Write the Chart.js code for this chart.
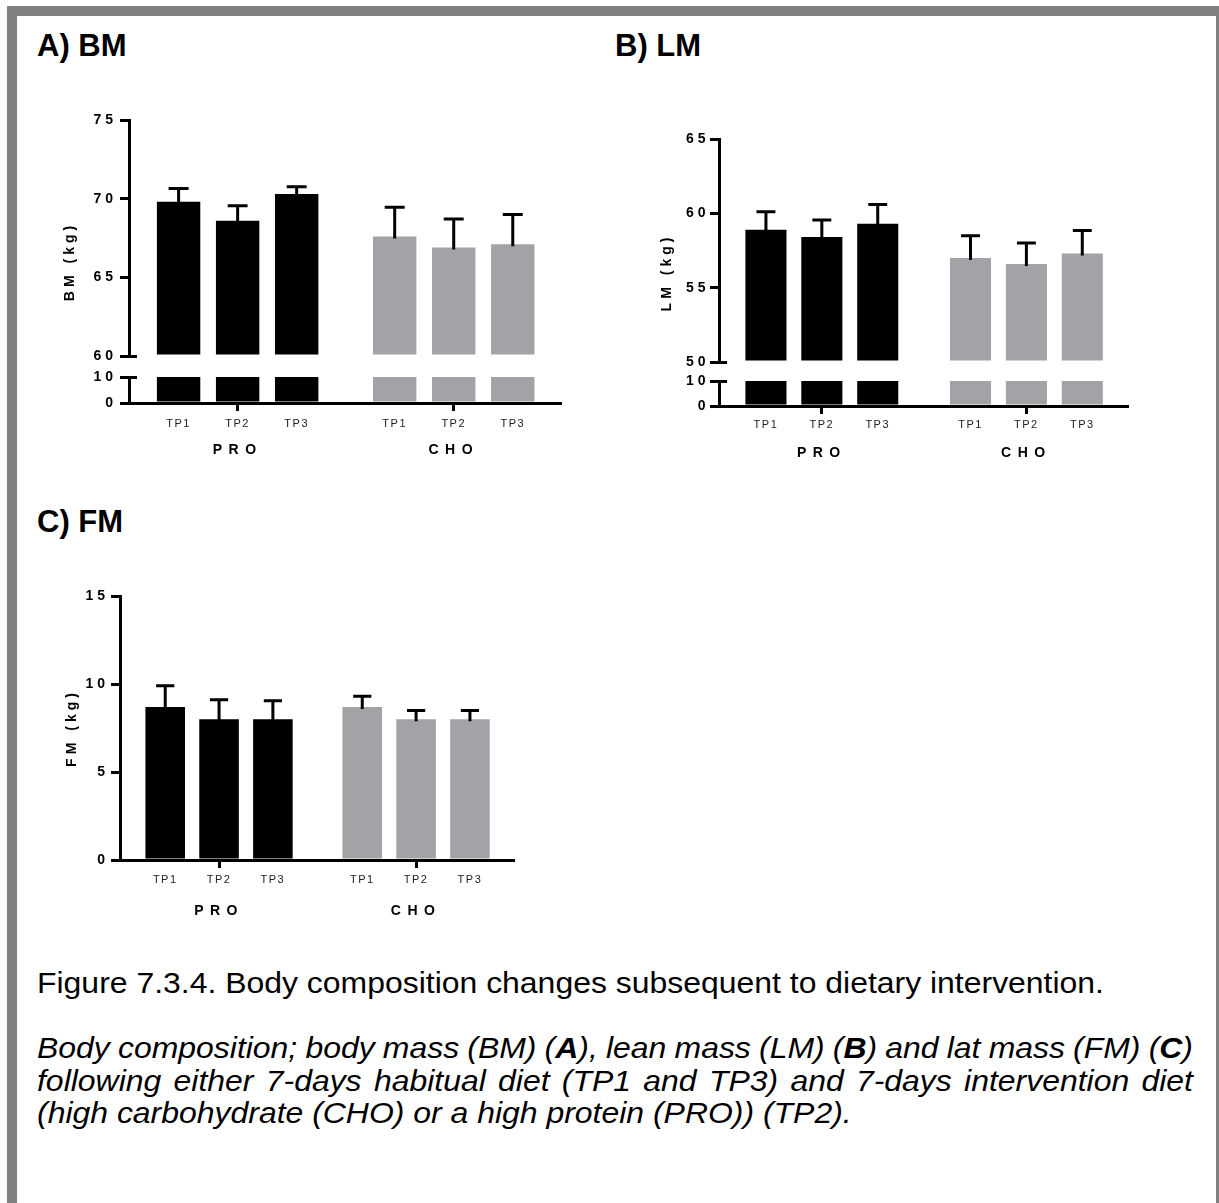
<!DOCTYPE html>
<html>
<head>
<meta charset="utf-8">
<title>Body composition changes</title>
<script src="https://cdn.jsdelivr.net/npm/chart.js@4.4.1/dist/chart.umd.min.js"></script>
<style>
  html, body { margin: 0; padding: 0; background: #fff; }
  body {
    width: 1219px; height: 1203px; position: relative; overflow: hidden;
    font-family: "Liberation Sans", Arial, sans-serif; color: #000;
  }
  .frame {
    position: absolute; left: 7px; top: 6px; width: 1219px; height: 1300px;
    box-sizing: border-box; border: 10px solid #808080; border-bottom: none;
  }
  canvas { position: absolute; }
  .panel-title { position: absolute; font-weight: bold; font-size: 31px; line-height: 1; white-space: nowrap; }
  .cap {
    position: absolute; left: 37px; font-size: 28.7px; line-height: 1;
    white-space: nowrap; transform-origin: 0 0;
  }
  .cap.it { font-style: italic; }
  .cap.just { white-space: normal; word-spacing: -3px; text-align: justify; text-align-last: justify; }
</style>
</head>
<body>
<div class="frame"></div>

<div class="panel-title" style="left:37px;top:30px">A) BM</div>
<div class="panel-title" style="left:615px;top:30px">B) LM</div>
<div class="panel-title" style="left:37px;top:506px">C) FM</div>

<canvas id="bm" width="530" height="375" style="left:40px;top:95px"></canvas>
<canvas id="lm" width="507" height="359" style="left:630px;top:114px"></canvas>
<canvas id="fm" width="493" height="356" style="left:30px;top:571px"></canvas>

<div class="cap" id="cap0" style="top:969px">Figure 7.3.4. Body composition changes subsequent to dietary intervention.</div>
<div class="cap it just" id="cap1" style="top:1034px">Body composition; body mass (BM) (<b>A</b>), lean mass (LM) (<b>B</b>) and lat mass (FM) (<b>C</b>)</div>
<div class="cap it just" id="cap2" style="top:1067px">following either 7-days habitual diet (TP1 and TP3) and 7-days intervention diet</div>
<div class="cap it" id="cap3" style="top:1099px">(high carbohydrate (CHO) or a high protein (PRO)) (TP2).</div>

<script>
const groups = ['PRO', 'CHO'];
const timepoints = ['TP1', 'TP2', 'TP3'];

// body mass (kg): mean and SD at each timepoint
const bmPRO = [69.8, 68.6, 70.3];
const bmPROsd = [0.85, 0.95, 0.45];
const bmCHO = [67.6, 66.9, 67.1];
const bmCHOsd = [1.85, 1.8, 1.9];

// lean mass (kg)
const lmPRO = [58.9, 58.4, 59.3];
const lmPROsd = [1.2, 1.15, 1.3];
const lmCHO = [57.0, 56.6, 57.3];
const lmCHOsd = [1.5, 1.4, 1.55];

// fat mass (kg)
const fmPRO = [8.7, 8.0, 8.0];
const fmPROsd = [1.2, 1.1, 1.05];
const fmCHO = [8.7, 8.0, 8.0];
const fmCHOsd = [0.6, 0.5, 0.5];

// y axis ticks (upper segment / lower segment of the broken axes)
const bmTicks = [60, 65, 70, 75];
const lmTicks = [50, 55, 60, 65];
const lowTicks = [0, 10];
const fmTicks = [0, 5, 10, 15];

const FONT = '"Liberation Sans", Arial, sans-serif';
const BLACK = '#000';
const groupColors = ['#000000', '#a3a2a7'];

// bar positions on a linear x axis: 3 bars per group, wider gap between groups
const FIRST_BAR = 0.84, GROUP_STEP = 3.66, X_MAX = 7.3;
const barX = groups.flatMap((g, gi) => timepoints.map((t, ti) => FIRST_BAR + gi * GROUP_STEP + ti));
const groupX = groups.map((g, gi) => FIRST_BAR + gi * GROUP_STEP + 1);
const barColors = groups.flatMap((g, gi) => timepoints.map(() => groupColors[gi]));

Chart.defaults.font.family = FONT;
Chart.defaults.color = BLACK;

// mean + SD whiskers (upward only) on top of every bar carrying `errors`
const errorBars = {
  id: 'errorBars',
  afterDatasetsDraw(chart) {
    const ctx = chart.ctx;
    chart.data.datasets.forEach((ds, di) => {
      if (!ds.errors) return;
      const meta = chart.getDatasetMeta(di);
      const yScale = chart.scales[meta.yAxisID];
      meta.data.forEach((bar, i) => {
        const top = yScale.getPixelForValue(ds.data[i].y + ds.errors[i]);
        const half = bar.width * 0.23;
        ctx.save();
        ctx.strokeStyle = BLACK;
        ctx.lineWidth = 3;
        ctx.beginPath();
        ctx.moveTo(bar.x, bar.y + 2);
        ctx.lineTo(bar.x, top);
        ctx.moveTo(bar.x - half, top);
        ctx.lineTo(bar.x + half, top);
        ctx.stroke();
        ctx.restore();
      });
    });
  }
};

// short marks to the right of the axis where it is broken
const breakMarks = {
  id: 'breakMarks',
  afterDraw(chart) {
    const hi = chart.scales.yHi, lo = chart.scales.yLo;
    if (!hi || !lo) return;
    const ctx = chart.ctx;
    const x = hi.right;
    ctx.save();
    ctx.strokeStyle = BLACK;
    ctx.lineWidth = 3;
    ctx.beginPath();
    [hi.getPixelForValue(hi.min), lo.getPixelForValue(lo.max)].forEach(y => {
      y = Math.round(y - 0.5) + 0.5;
      ctx.moveTo(x, y);
      ctx.lineTo(x + 8, y);
    });
    ctx.stroke();
    ctx.restore();
  }
};

// letter-spaced labels per scale
function spacedLabels(spacing) {
  return {
    id: 'spacedLabels',
    beforeDraw(chart) {
      Object.keys(spacing).forEach(id => {
        const scale = chart.scales[id];
        if (!scale || scale.$spaced) return;
        scale.$spaced = true;
        ['drawLabels', 'drawTitle'].forEach(fn => {
          const orig = scale[fn].bind(scale);
          scale[fn] = (...args) => {
            scale.ctx.save();
            scale.ctx.letterSpacing = spacing[id];
            orig(...args);
            scale.ctx.restore();
          };
        });
      });
    }
  };
}

function valueAxis(ticks, pad, extra) {
  return Object.assign({
    type: 'linear',
    axis: 'y',
    position: 'left',
    min: ticks[0],
    max: ticks[ticks.length - 1],
    afterBuildTicks: s => { s.ticks = ticks.map(v => ({ value: v })); },
    afterFit: s => { s.width = 45; },
    border: { display: true, color: BLACK, width: 3 },
    grid: { drawOnChartArea: false, drawTicks: true, tickLength: 9, color: BLACK, lineWidth: 3 },
    ticks: { color: BLACK, padding: pad, autoSkip: false, font: { size: 14, weight: 'bold' } }
  }, extra);
}

function bottomAxis(ticks, height, weight, extra) {
  return Object.assign({
    type: 'linear',
    axis: 'x',
    position: 'bottom',
    offset: false,
    min: 0,
    max: X_MAX,
    weight: weight,
    afterBuildTicks: s => { s.ticks = ticks.map(v => ({ value: v })); },
    afterFit: s => { s.height = height; },
    border: { display: false },
    grid: { display: false, drawTicks: false, offset: false }
  }, extra);
}

function buildPanel(canvasId, p) {
  const mean = p.pro.concat(p.cho);
  const sd = p.proSd.concat(p.choSd);
  const points = vals => vals.map((v, i) => ({ x: barX[i], y: v }));
  const barStyle = {
    backgroundColor: barColors,
    borderWidth: 0,
    grouped: false,
    barPercentage: 0.735,
    categoryPercentage: 1
  };

  const scales = {
    yLabel: {
      type: 'linear', axis: 'y', position: 'left', weight: 10, min: 0, max: 1,
      afterFit: s => { s.width = p.labelWidth; },
      border: { display: false },
      grid: { display: false, drawTicks: false },
      ticks: { display: false },
      title: {
        display: true, text: p.title, color: BLACK,
        font: { size: 14, weight: 'bold' },
        padding: { top: p.titlePad, bottom: 0 }
      }
    },
    x: bottomAxis(groupX, 8, 0, {
      border: { display: true, color: BLACK, width: 3 },
      grid: { drawOnChartArea: false, drawTicks: true, tickLength: 8, color: BLACK, lineWidth: 3, offset: false },
      ticks: { display: false }
    }),
    tp: bottomAxis(barX, 26, 1, {
      ticks: {
        color: '#222', padding: p.tpPad, maxRotation: 0, autoSkip: false,
        font: { size: 11 },
        callback: (v, i) => timepoints[i % timepoints.length]
      }
    }),
    grp: bottomAxis(groupX, 33, 2, {
      ticks: {
        color: BLACK, padding: p.grpPad, maxRotation: 0, autoSkip: false,
        font: { size: 14, weight: 'bold' },
        callback: (v, i) => groups[i]
      }
    })
  };

  const datasets = [];
  const spacing = { yLabel: '4px', tp: '1.5px', grp: '6.5px' };

  if (p.lowTicks) {
    // broken axis: upper segment, spacer, lower segment stacked on the left
    scales.yHi = valueAxis(p.ticks, p.tickPad, { stack: 'value', stackWeight: p.weights[0], weight: 3 });
    scales.yGap = {
      type: 'linear', axis: 'y', position: 'left', stack: 'value', stackWeight: p.weights[1], weight: 2,
      min: 0, max: 1,
      border: { display: false }, grid: { display: false, drawTicks: false }, ticks: { display: false }
    };
    scales.yLo = valueAxis(p.lowTicks, p.tickPad, { stack: 'value', stackWeight: p.weights[2], weight: 1 });
    const loMax = p.lowTicks[p.lowTicks.length - 1];
    datasets.push(Object.assign({ data: points(mean), errors: sd, yAxisID: 'yHi', base: p.ticks[0] }, barStyle));
    datasets.push(Object.assign({ data: points(mean.map(v => Math.min(v, loMax))), yAxisID: 'yLo' }, barStyle));
    spacing.yHi = '4px';
    spacing.yLo = '4px';
  } else {
    scales.y = valueAxis(p.ticks, p.tickPad, { weight: 1 });
    datasets.push(Object.assign({ data: points(mean), errors: sd, yAxisID: 'y' }, barStyle));
    spacing.y = '4px';
  }

  return new Chart(document.getElementById(canvasId), {
    type: 'bar',
    data: { datasets: datasets },
    options: {
      responsive: false,
      animation: false,
      devicePixelRatio: 1,
      events: [],
      layout: { padding: { top: 25, right: 10, bottom: 0, left: 0 } },
      plugins: { legend: { display: false }, tooltip: { enabled: false } },
      scales: scales
    },
    plugins: [errorBars, breakMarks, spacedLabels(spacing)]
  });
}

buildPanel('bm', {
  title: 'BM (kg)', pro: bmPRO, proSd: bmPROsd, cho: bmCHO, choSd: bmCHOsd,
  ticks: bmTicks, lowTicks: lowTicks, weights: [236, 21, 26],
  labelWidth: 44, titlePad: 21.6, tickPad: 3, tpPad: 6.1, grpPad: 4.6
});

buildPanel('lm', {
  title: 'LM (kg)', pro: lmPRO, proSd: lmPROsd, cho: lmCHO, choSd: lmCHOsd,
  ticks: lmTicks, lowTicks: lowTicks, weights: [223, 19, 25],
  labelWidth: 44, titlePad: 28.3, tickPad: 0.5, tpPad: 4.4, grpPad: 4.3
});

buildPanel('fm', {
  title: 'FM (kg)', pro: fmPRO, proSd: fmPROsd, cho: fmCHO, choSd: fmCHOsd,
  ticks: fmTicks, lowTicks: null,
  labelWidth: 45, titlePad: 33.6, tickPad: 2, tpPad: 5.4, grpPad: 8.6
});

// caption is set slightly wide; justified lines span the full text block
const CAPTION_WIDTH = 1067, BLOCK_WIDTH = 1156;
const cap0 = document.getElementById('cap0');
const stretch = CAPTION_WIDTH / cap0.getBoundingClientRect().width;
['cap0', 'cap1', 'cap2', 'cap3'].forEach(id => {
  const el = document.getElementById(id);
  if (el.classList.contains('just')) el.style.width = (BLOCK_WIDTH / stretch) + 'px';
  el.style.transform = 'scaleX(' + stretch + ')';
});
</script>
</body>
</html>
